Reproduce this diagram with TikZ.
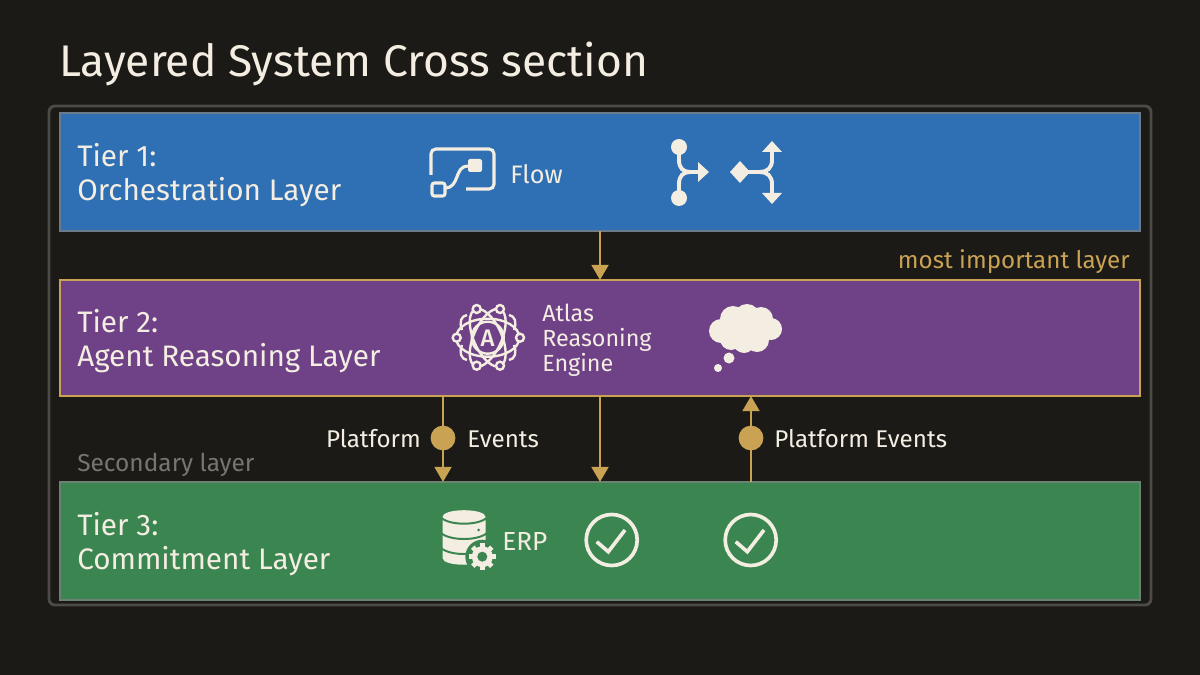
\documentclass[tikz,border=0pt]{standalone}
\usepackage{fontspec}
\setmainfont{Fira Sans}[BoldFont=* Medium]
\usepackage{xcolor}
\usetikzlibrary{calc}
\usetikzlibrary{positioning}
\usetikzlibrary{arrows.meta}
\definecolor{bgdark}{HTML}{1C1A17}
\definecolor{framegray}{HTML}{4C4B48}
\definecolor{tierblue}{HTML}{2F6FB3}
\definecolor{tierpurple}{HTML}{6F4186}
\definecolor{tiergreen}{HTML}{3A8550}
\definecolor{gold}{HTML}{C9A253}
\definecolor{cream}{HTML}{F3EDE2}
\definecolor{dimgray}{HTML}{77756F}
\tikzset{
	tier/.style={minimum width=27cm, minimum height=2.95cm, outer sep=0pt, line width=1.9pt},
	tierlabel/.style={anchor=west, align=left, text=cream, inner sep=0pt, font=\fontsize{21.1}{24}\selectfont},
	iconlabel/.style={anchor=west, align=left, text=cream, inner sep=0pt},
	eventlabel/.style={text=cream, inner sep=0pt, font=\fontsize{17.2}{20}\selectfont},
	dot/.style={circle, fill=gold, minimum size=0.62cm, inner sep=0pt, outer sep=0pt},
	link/.style={draw=gold, line width=2.1pt, -{Triangle[length=0.38cm,width=0.42cm]}},
	iconline/.style={draw=cream, line width=2.2pt},
	atomline/.style={draw=cream, line width=1.7pt},
	iconfill/.style={fill=cream},
}
\begin{document}
\begin{tikzpicture}[x=0.025cm, y=-0.025cm]
	\fill[bgdark] (0, 0) rectangle (1200, 675);
	\useasboundingbox (0, 0) rectangle (1200, 675);
	\node[anchor=west, text=cream, inner sep=0pt, font=\fontsize{31.5}{36}\selectfont] (title) at (59, 64) {Layered System Cross section};
	\draw[framegray, line width=2pt, rounded corners=0.15cm] (49, 106) rectangle (1151, 605);
	% the three tiers
	\node[tier, fill=tierblue, draw=gray!75!tierblue] (orch) at (600, 172) {};
	\node[tier, fill=tierpurple, draw=gold, minimum height=2.9cm] (reason) at (600, 338) {};
	\node[tier, fill=tiergreen, draw=gray!70!tiergreen] (commit) at (600, 541) {};
	\node[tierlabel] (orchlabel) at (77, 175) {Tier 1:\\Orchestration Layer};
	\node[tierlabel] (reasonlabel) at (77, 341) {Tier 2:\\Agent Reasoning Layer};
	\node[tierlabel] (commitlabel) at (77, 544) {Tier 3:\\Commitment Layer};
	\node[anchor=east, text=gold, inner sep=0pt, font=\fontsize{17.2}{20}\selectfont] (mostlabel) at (1130, 262) {most important layer};
	\node[anchor=west, text=dimgray, inner sep=0pt, font=\fontsize{17.4}{20}\selectfont] (secondlabel) at (77, 465) {Secondary layer};
	% connectors between the tiers
	\coordinate (midx) at (600, 438);
	\node[dot] (dotleft) at (443, 438) {};
	\node[dot] (dotright) at (751, 438) {};
	\draw[link] (orch.south -| midx) -- (reason.north -| midx);
	\draw[draw=gold, line width=2.1pt] (reason.south -| dotleft) -- (dotleft);
	\draw[link] (dotleft) -- (commit.north -| dotleft);
	\draw[link] (reason.south -| midx) -- (commit.north -| midx);
	\draw[draw=gold, line width=2.1pt] (commit.north -| dotright) -- (dotright);
	\draw[link] (dotright) -- (reason.south -| dotright);
	\node[eventlabel, anchor=east] (platleft) at (421, 439) {Platform};
	\node[eventlabel, anchor=west] (eventsleft) at (467, 439) {Events};
	\node[eventlabel, anchor=west] (platright) at (774, 439) {Platform Events};
	% flow icon
	\draw[iconline, rounded corners=0.12cm] (431, 175) -- (431, 149) -- (494, 149) -- (494, 189) -- (466, 189);
	\draw[iconline, rounded corners=0.06cm] (432, 183) rectangle (445, 196);
	\fill[iconfill, rounded corners=0.04cm] (468, 159) rectangle (482, 172);
	\draw[iconline] (445, 188) .. controls (460, 188) and (454, 166) .. (468, 166);
	\node[iconlabel, font=\fontsize{18}{20}\selectfont] (flowlabel) at (510, 174) {Flow};
	% split and merge icons
	\fill[iconfill] (679, 147) circle (8) (679, 198) circle (8);
	\draw[iconline, line width=2.8pt] (679, 147) -- (679, 160) .. controls (679, 168) and (683, 172) .. (690, 172) -- (700, 172);
	\draw[iconline, line width=2.8pt] (679, 198) -- (679, 184) .. controls (679, 176) and (683, 172) .. (690, 172);
	\fill[iconfill] (698, 162) -- (709, 172) -- (698, 182) -- cycle;
	\fill[iconfill] (730, 172) -- (740, 161) -- (750, 172) -- (740, 183) -- cycle;
	\draw[iconline, line width=2.8pt] (745, 172) -- (760, 172) .. controls (767, 172) and (772, 168) .. (772, 160) -- (772, 150);
	\draw[iconline, line width=2.8pt] (760, 172) .. controls (767, 172) and (772, 176) .. (772, 184) -- (772, 195);
	\fill[iconfill] (762, 152) -- (772, 141) -- (782, 152) -- cycle;
	\fill[iconfill] (762, 193) -- (772, 204) -- (782, 193) -- cycle;
	% atlas icon
	\draw[atomline] (487.7, 337.7) circle (16);
	\draw[atomline] (487.7, 337.7) ellipse (31.7 and 19);
	\foreach \ang in {66, 114} {
		\draw[atomline, rotate around={\ang:(487.7, 337.7)}] (487.7, 337.7) ellipse (31 and 14);
	}
	\foreach \posx/\posy in {476.7/309, 500/309, 456.7/337.7, 520/337.7, 476.7/365.7, 500/365.7} {
		\draw[atomline, fill=tierpurple] (\posx, \posy) circle (4);
	}
	\draw[atomline] (467, 315) .. controls (461, 316) and (459, 322) .. (462, 330);
	\draw[atomline] (462, 345) .. controls (459, 353) and (461, 359) .. (467, 360);
	\draw[atomline] (509, 315) .. controls (515, 316) and (517, 322) .. (514, 330);
	\draw[atomline] (514, 345) .. controls (517, 353) and (515, 359) .. (509, 360);
	\node[text=cream, inner sep=0pt, font=\fontsize{17}{20}\bfseries\selectfont] (atlasmark) at (487.7, 338) {A};
	\node[iconlabel, font=\fontsize{16.6}{17.8}\selectfont] (atlaslabel) at (542, 340) {Atlas\\Reasoning\\Engine};
	% thought cloud
	\fill[iconfill] (721, 331) circle (12) (733, 319) circle (13) (747, 317) circle (13) (761, 319) circle (12) (771, 329) circle (11) (757, 340) circle (12) (744, 342) circle (11) (731, 339) circle (11) (745, 330) circle (15);
	\fill[iconfill] (729, 358) circle (5.5) (718, 368) circle (4);
	% database icon
	\fill[iconfill] (442.5, 517) -- (442.5, 558) .. controls (442.5, 567) and (485.5, 567) .. (485.5, 558) -- (485.5, 517) -- cycle;
	\fill[iconfill] (464, 516.7) ellipse (21.5 and 6.5);
	\foreach \posy in {517.7, 533, 548} {
		\draw[tiergreen, line width=1.4pt] (441, \posy) .. controls (450, \posy+8) and (478, \posy+8) .. (487, \posy);
	}
	\fill[tiergreen] (478.5, 530) circle (1.5);
	\fill[tiergreen] (482.3, 556.7) circle (17);
	\foreach \ang in {0, 45, 90, 135} {
		\draw[cream, line width=3.4pt, rotate around={\ang:(482.3, 556.7)}] (468.8, 556.7) -- (495.8, 556.7);
	}
	\fill[iconfill] (482.3, 556.7) circle (10.5);
	\fill[tiergreen] (482.3, 556.7) circle (5);
	\node[iconlabel, font=\fontsize{18.6}{20}\selectfont] (erplabel) at (502, 541) {ERP};
	% check marks
	\draw[iconline, line width=2.6pt] (611.7, 540) circle (25.5);
	\draw[iconline, line width=2.6pt] (596.7, 541.7) -- (608.3, 551.7) -- (625, 530);
	\draw[iconline, line width=2.6pt] (750.7, 540) circle (25.5);
	\draw[iconline, line width=2.6pt] (735.7, 541.7) -- (747.3, 551.7) -- (764, 530);
\end{tikzpicture}
\end{document}
